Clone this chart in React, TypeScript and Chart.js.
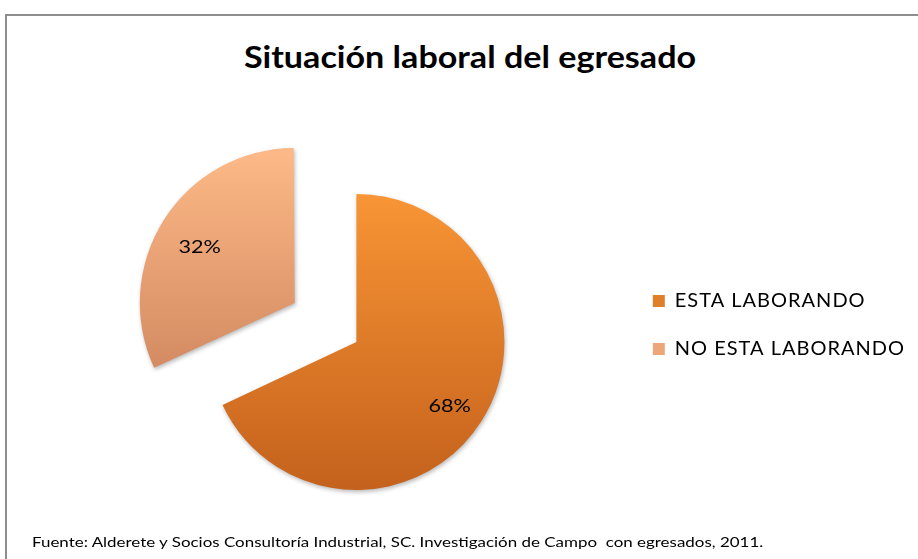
import React, { useEffect, useRef } from "react";
import { Chart, registerables } from "chart.js";

Chart.register(...registerables);

const TITLE = "Situación laboral del egresado";
const SOURCE =
  "Fuente: Alderete y Socios Consultoría Industrial, SC. Investigación de Campo  con egresados, 2011.";
const categories = ["ESTA LABORANDO", "NO ESTA LABORANDO"];
const values = [68, 32];
const topColors = ["#F89535", "#FCB886"];
const bottomColors = ["#C4611C", "#C47954"];
const legendColors = ["#E07F2A", "#EDA57A"];

const RADIUS = 148;
const EXPLODE = 292;
const CANVAS_W = 960;
const CANVAS_H = 559;

const sliceShadow = {
  id: "sliceShadow",
  beforeDatasetsDraw(chart: any) {
    const ctx = chart.ctx;
    ctx.shadowColor = "rgba(0,0,0,0.28)";
    ctx.shadowBlur = 4;
    ctx.shadowOffsetX = 1;
    ctx.shadowOffsetY = 2;
  },
  afterDatasetsDraw(chart: any) {
    const ctx = chart.ctx;
    ctx.shadowColor = "rgba(0,0,0,0)";
    ctx.shadowBlur = 0;
    ctx.shadowOffsetX = 0;
    ctx.shadowOffsetY = 0;
  },
};

const pctLabels = {
  id: "pctLabels",
  afterDatasetsDraw(chart: any) {
    const ctx = chart.ctx;
    const meta = chart.getDatasetMeta(0);
    meta.data.forEach((arc: any, i: number) => {
      const p = arc.getProps(["x", "y", "startAngle", "endAngle", "outerRadius"], true);
      const off = arc.options.offset || 0;
      const circ = p.endAngle - p.startAngle;
      const fix = 1 - Math.sin(Math.min(Math.PI, circ));
      const t = (off / 4) * (1 + fix);
      const mid = (p.startAngle + p.endAngle) / 2;
      const d = t + p.outerRadius * 0.73;
      ctx.save();
      ctx.font = "18px Lato";
      ctx.fillStyle = "#000";
      ctx.textAlign = "center";
      ctx.textBaseline = "middle";
      ctx.translate(p.x + Math.cos(mid) * d + 2, p.y + Math.sin(mid) * d + 6);
      ctx.scale(1.2, 1);
      ctx.fillText(values[i] + "%", 0, 0);
      ctx.restore();
    });
  },
};

const legendSpacing = {
  id: "legendSpacing",
  beforeLayout(chart: any) {
    chart.ctx.letterSpacing = "1px";
  },
  afterLayout(chart: any) {
    chart.ctx.letterSpacing = "0px";
  },
  beforeDraw(chart: any) {
    chart.ctx.letterSpacing = "1px";
  },
  beforeDatasetsDraw(chart: any) {
    chart.ctx.letterSpacing = "0px";
  },
};

export default function App() {
  const ref = useRef<HTMLCanvasElement | null>(null);

  useEffect(() => {
    if (!ref.current) return;
    const chart = new Chart(ref.current, {
      type: "pie",
      data: {
        labels: categories,
        datasets: [
          {
            data: values,
            borderWidth: 0,
            offset: (c: any) => (c.dataIndex === 1 ? EXPLODE : 0),
            backgroundColor: (c: any) => {
              const i = c.dataIndex ?? 0;
              const chart = c.chart;
              const ca = chart.chartArea;
              if (!ca) return topColors[i];
              const cy = (ca.top + ca.bottom) / 2;
              const g = chart.ctx.createLinearGradient(0, cy - RADIUS, 0, cy + RADIUS);
              g.addColorStop(0, topColors[i]);
              g.addColorStop(1, bottomColors[i]);
              return g;
            },
          } as any,
        ],
      },
      options: {
        responsive: false,
        animation: false,
        events: [],
        cutout: "0%",
        radius: RADIUS,
        layout: { padding: { left: 88, right: 45, top: 263, bottom: 138 } },
        plugins: {
          title: { display: false },
          tooltip: { enabled: false },
          legend: {
            position: "right",
            align: "start",
            labels: {
              boxWidth: 12,
              boxHeight: 12,
              padding: 28,
              color: "#000",
              font: { family: "Lato", size: 20 },
              generateLabels: () =>
                categories.map((c, i) => ({
                  text: c,
                  fillStyle: legendColors[i],
                  strokeStyle: legendColors[i],
                  lineWidth: 0,
                  hidden: false,
                  index: i,
                })),
            },
          },
        },
      } as any,
      plugins: [sliceShadow, pctLabels, legendSpacing],
    });
    return () => chart.destroy();
  }, []);

  return (
    <div
      style={{
        position: "absolute",
        left: 0,
        top: 0,
        width: 918,
        height: 559,
        overflow: "hidden",
        background: "#fff",
      }}
    >
      <div
        style={{
          position: "absolute",
          left: 5,
          top: 14,
          width: 1000,
          height: 1000,
          border: "2px solid #8e8e8e",
        }}
      />
      <div
        style={{
          position: "absolute",
          left: 0,
          top: 38,
          width: 940,
          textAlign: "center",
          fontFamily: "Lato",
          fontWeight: 700,
          fontSize: 31,
          lineHeight: "36px",
          color: "#000",
          whiteSpace: "nowrap",
          transform: "scaleX(1.1)",
          transformOrigin: "470px 0",
        }}
      >
        {TITLE}
      </div>
      <canvas
        ref={ref}
        width={CANVAS_W}
        height={CANVAS_H}
        style={{ position: "absolute", left: 0, top: 0, width: CANVAS_W, height: CANVAS_H }}
      />
      <div
        style={{
          position: "absolute",
          left: 32,
          top: 533,
          fontFamily: "Lato",
          fontSize: 14,
          lineHeight: "18px",
          color: "#000",
          whiteSpace: "pre",
          transform: "scaleX(1.21)",
          transformOrigin: "0 0",
        }}
      >
        {SOURCE}
      </div>
    </div>
  );
}
